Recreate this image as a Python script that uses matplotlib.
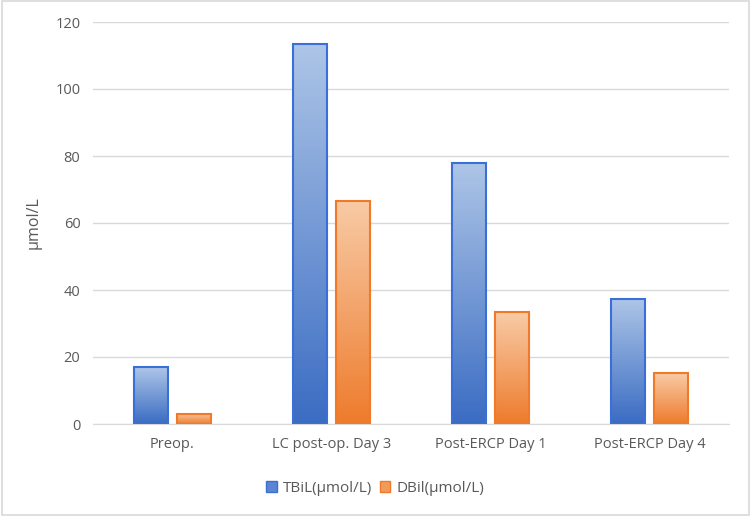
import numpy as np
import matplotlib.pyplot as plt
from matplotlib.colors import LinearSegmentedColormap
from matplotlib.patches import Rectangle

categories = ['Preop.', 'LC post-op. Day 3', 'Post-ERCP Day 1', 'Post-ERCP Day 4']
tbil = [17.0, 113.4, 77.9, 37.3]
dbil = [3.0, 66.6, 33.4, 15.2]
series_names = ['TBiL(μmol/L)', 'DBil(μmol/L)']

plt.rcParams['font.family'] = ['Open Sans', 'DejaVu Sans']

fig = plt.figure(figsize=(7.5, 5.16), dpi=100)
ax = fig.add_axes([93 / 750, 1 - 424 / 516, 636 / 750, 402 / 516])

x = np.arange(len(categories))
w = 0.215
off = 0.133

blue_cmap = LinearSegmentedColormap.from_list('b', ['#3b6cc3', '#adc5e7'])
orange_cmap = LinearSegmentedColormap.from_list('o', ['#ee7b2c', '#f8cba6'])
grad = np.linspace(0, 1, 256).reshape(-1, 1)


def grad_bars(xs, vals, cmap, edge):
    for xi, v in zip(xs, vals):
        im = ax.imshow(grad, cmap=cmap, aspect='auto', origin='lower',
                       extent=(xi - w / 2, xi + w / 2, 0, v), zorder=3)
        r = Rectangle((xi - w / 2, 0), w, v, facecolor='none',
                      edgecolor=edge, linewidth=1.5, zorder=4)
        ax.add_patch(r)
        im.set_clip_path(r)


grad_bars(x - off, tbil, blue_cmap, '#3a6fd8')
grad_bars(x + off, dbil, orange_cmap, '#f07a2a')

ax.set_xlim(-0.5, len(categories) - 0.5)
ax.set_ylim(0, 120)
ax.set_yticks(np.arange(0, 121, 20))
ax.set_xticks(x)
ax.set_xticklabels(categories)
ax.tick_params(axis='both', length=0, colors='#595959', labelsize=10.5)
ax.tick_params(axis='x', pad=9)
ax.tick_params(axis='y', pad=9)
ax.grid(axis='y', color='#d9d9d9', linewidth=1, zorder=0)
ax.set_axisbelow(True)
for s in ['top', 'right', 'left']:
    ax.spines[s].set_visible(False)
ax.spines['bottom'].set_color('#d9d9d9')
ax.set_ylabel('μmol/L', color='#595959', fontsize=11.5, labelpad=10)

handles = [Rectangle((0, 0), 1, 1, facecolor='#5b85d0', edgecolor='#3a6fd8'),
           Rectangle((0, 0), 1, 1, facecolor='#f39a5a', edgecolor='#f07a2a')]
fig.legend(handles, series_names, loc='center', bbox_to_anchor=(0.5, 1 - 488 / 516),
           ncol=2, frameon=False, fontsize=11, handlelength=0.7, handleheight=0.7,
           columnspacing=0.5, handletextpad=0.4, labelcolor='#595959')

fig.patches.append(Rectangle((0.002, 0.002), 0.996, 0.996, transform=fig.transFigure,
                             facecolor='none', edgecolor='#d9d9d9', linewidth=1.2))

fig.savefig('out.png', dpi=100)
